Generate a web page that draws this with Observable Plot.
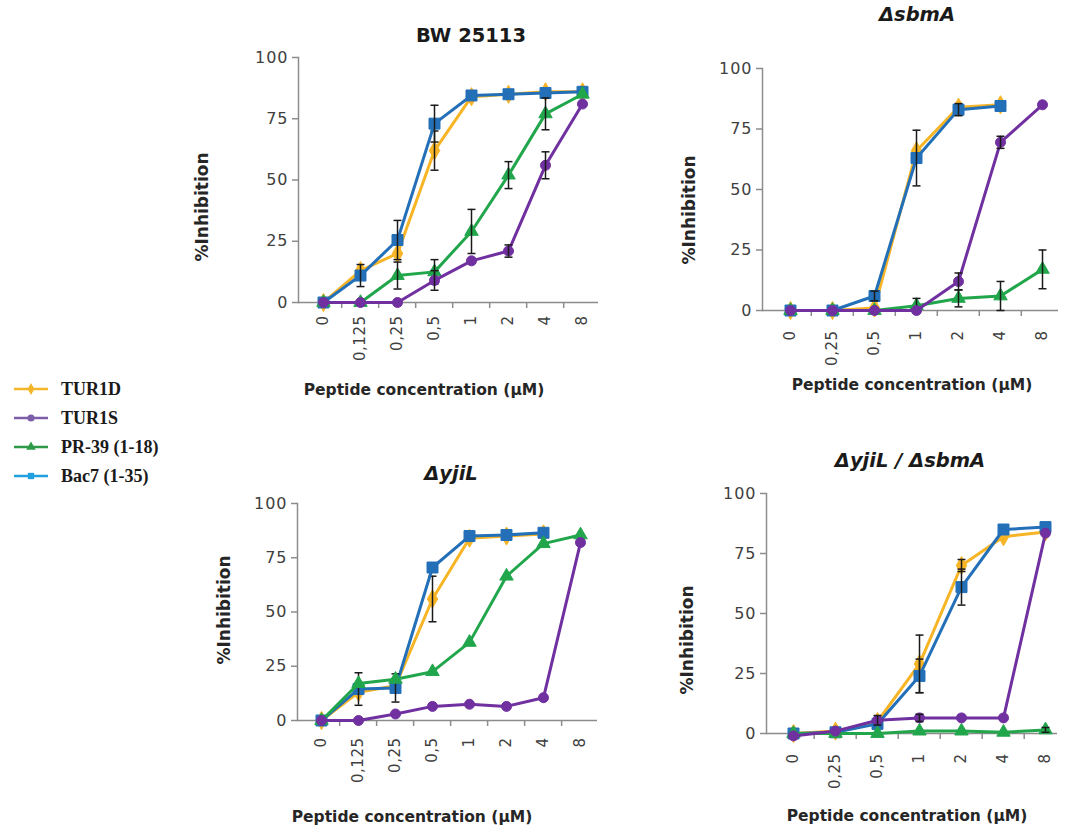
<!DOCTYPE html>
<html>
<head>
<meta charset="utf-8">
<script src="https://cdn.jsdelivr.net/npm/d3@7"></script>
<script src="https://cdn.jsdelivr.net/npm/@observablehq/plot@0.6"></script>
<style>
  html, body { margin: 0; background: #fff; }
  #fig { position: relative; width: 1067px; height: 834px; overflow: hidden; }
  #fig > .panel { position: absolute; }
  #fig > .panel g[aria-label="y-axis tick label"] text { letter-spacing: 1px; }
  #fig > .panel g[aria-label="x-axis tick label"] text { letter-spacing: 0.5px; }
  #overlay { position: absolute; left: 0; top: 0; pointer-events: none; }
</style>
</head>
<body>
<div id="fig"></div>
<script>
// Peptide concentrations (µM) used on the x axes
const concFull = ["0", "0,125", "0,25", "0,5", "1", "2", "4", "8"];
const concShort = ["0", "0,25", "0,5", "1", "2", "4", "8"];
const peptides = ["TUR1D", "TUR1S", "PR-39 (1-18)", "Bac7 (1-35)"];
const yTicks = [0, 25, 50, 75, 100];

// BW 25113 (% inhibition, mean and error)
const bwTUR1D = [0, 13, 20, 62, 84, 85, 86, 86];
const bwTUR1S = [0, 0, 0, 9, 17, 21, 56, 81];
const bwPR39 = [0, 0, 11, 12.5, 29, 52, 77, 85];
const bwBac7 = [0, 11, 25.5, 73, 84.5, 85, 85.5, 86];
const bwTUR1DErr = [null, null, null, 8, null, null, null, null];
const bwTUR1SErr = [null, null, null, 4, null, 2.5, 5.5, null];
const bwPR39Err = [null, null, 5.5, 5, 9, 5.5, 6.5, null];
const bwBac7Err = [null, 4.5, 8, 7.5, null, null, null, null];

// ΔsbmA
const sbTUR1D = [0, 0, 1, 66, 84, 85, null];
const sbTUR1S = [0, 0, 0, 0, 12, 69.5, 85];
const sbPR39 = [0, 0, 0, 2, 5, 6, 17];
const sbBac7 = [0, 0, 6, 63, 83, 84.5, null];
const sbTUR1DErr = [null, null, null, null, null, null, null];
const sbTUR1SErr = [null, null, null, null, 3.5, 2.5, null];
const sbPR39Err = [null, null, null, 3, 3.5, 6, 8];
const sbBac7Err = [null, null, 2, 11.5, 2.5, null, null];

// ΔyjiL
const yjTUR1D = [0, 13, 16, 56, 84, 85, 86, null];
const yjTUR1S = [0, 0, 3, 6.5, 7.5, 6.5, 10.5, 82];
const yjPR39 = [0, 17, 19, 22.5, 36, 66.5, 81.5, 85.5];
const yjBac7 = [0, 14.5, 15, 70.5, 85, 85.5, 86.5, null];
const yjTUR1DErr = [null, null, null, 10.5, null, null, null, null];
const yjTUR1SErr = [null, null, null, null, null, null, null, null];
const yjPR39Err = [null, null, null, null, null, null, null, null];
const yjBac7Err = [null, 7.5, 6.5, null, null, null, null, null];

// ΔyjiL / ΔsbmA
const dbTUR1D = [0, 1, 5, 29, 70, 82, 84];
const dbTUR1S = [-1, 1, 5.5, 6.5, 6.5, 6.5, 83.5];
const dbPR39 = [0, 0, 0, 1, 1, 0.5, 1.5];
const dbBac7 = [0, 0.5, 4, 24, 61, 85, 86];
const dbTUR1DErr = [null, null, null, 12, 2.5, null, null];
const dbTUR1SErr = [null, null, 2, 1.5, null, null, null];
const dbPR39Err = [null, null, null, null, null, null, 1];
const dbBac7Err = [null, null, null, 7, 7.5, null, null];

// Styling per peptide
const lineColor = {"TUR1D": "#f7b526", "TUR1S": "#7030a0", "PR-39 (1-18)": "#22a64c", "Bac7 (1-35)": "#2470b8"};
const keyColor = {"TUR1D": "#f3b52a", "TUR1S": "#7b5ea7", "PR-39 (1-18)": "#2e9a49", "Bac7 (1-35)": "#21a0e0"};
const symbolOf = {"TUR1D": "diamond", "TUR1S": "circle", "PR-39 (1-18)": "triangle", "Bac7 (1-35)": "square"};
const radiusOf = {"TUR1D": 5.5, "TUR1S": 5, "PR-39 (1-18)": 5, "Bac7 (1-35)": 6.2};
const drawOrder = ["TUR1D", "Bac7 (1-35)", "PR-39 (1-18)", "TUR1S"];

// horizontal cap used at the ends of error bars
const capSymbol = {draw(ctx, size) { const w = Math.sqrt(size) / 2; ctx.moveTo(-w, 0); ctx.lineTo(w, 0); }};

function rows(cats, vals, errs) {
  return cats.map((c, i) => ({c, v: vals[i], e: errs[i]})).filter(d => d.v != null);
}

const panels = [
  {title: "BW 25113", italic: false, cats: concFull,
   series: {"TUR1D": [bwTUR1D, bwTUR1DErr], "TUR1S": [bwTUR1S, bwTUR1SErr], "PR-39 (1-18)": [bwPR39, bwPR39Err], "Bac7 (1-35)": [bwBac7, bwBac7Err]},
   left: 230, top: 40, width: 380, height: 330, ml: 68, mr: 12, mt: 17, mb: 68, xr: [72, 373], pad: 13,
   tx: 471, ty: 42, ax: 424, ay: 395, lx: 208, ly: 207},
  {title: "ΔsbmA", italic: true, cats: concShort,
   series: {"TUR1D": [sbTUR1D, sbTUR1DErr], "TUR1S": [sbTUR1S, sbTUR1SErr], "PR-39 (1-18)": [sbPR39, sbPR39Err], "Bac7 (1-35)": [sbBac7, sbBac7Err]},
   left: 700, top: 50, width: 367, height: 320, ml: 62, mr: 9, mt: 18, mb: 60, xr: [67, 364], pad: 20,
   tx: 917, ty: 21, ax: 912, ay: 390, lx: 695, ly: 210},
  {title: "ΔyjiL", italic: true, cats: concFull,
   series: {"TUR1D": [yjTUR1D, yjTUR1DErr], "TUR1S": [yjTUR1S, yjTUR1SErr], "PR-39 (1-18)": [yjPR39, yjPR39Err], "Bac7 (1-35)": [yjBac7, yjBac7Err]},
   left: 230, top: 480, width: 380, height: 320, ml: 67, mr: 13, mt: 23, mb: 80, xr: [69, 371], pad: 17,
   tx: 451, ty: 480, ax: 412, ay: 822, lx: 230, ly: 610},
  {title: "ΔyjiL / ΔsbmA", italic: true, cats: concShort,
   series: {"TUR1D": [dbTUR1D, dbTUR1DErr], "TUR1S": [dbTUR1S, dbTUR1SErr], "PR-39 (1-18)": [dbPR39, dbPR39Err], "Bac7 (1-35)": [dbBac7, dbBac7Err]},
   left: 700, top: 470, width: 367, height: 330, ml: 66, mr: 10, mt: 23, mb: 67, xr: [70, 368], pad: 20,
   tx: 910, ty: 467, ax: 907, ay: 821, lx: 693, ly: 640}
];

const fig = document.getElementById("fig");
const axisGray = "#8c8c8c";

for (const p of panels) {
  const step = (p.xr[1] - p.xr[0]) / p.cats.length;
  const unit = (p.height - p.mt - p.mb) / 100;
  const marks = [
    Plot.frame({anchor: "left", stroke: axisGray, strokeWidth: 1.5}),
    Plot.ruleY([0], {stroke: axisGray, strokeWidth: 1.5}),
    Plot.ruleX(p.cats.slice(1), {x: d => d, dx: -step / 2, y1: 0, y2: -6 / unit, stroke: axisGray, strokeWidth: 1.5}),
    Plot.axisY(yTicks, {tickSize: 6, tickPadding: 4, stroke: axisGray, strokeWidth: 1.5, fill: "#404040", fontSize: 16, label: null}),
    Plot.axisX({tickSize: 0, tickPadding: p.pad, tickRotate: -90, fill: "#404040", fontSize: 15, label: null})
  ];
  for (const s of drawOrder) {
    const [vals, errs] = p.series[s];
    const data = rows(p.cats, vals, errs);
    const withErr = data.filter(d => d.e != null);
    marks.push(Plot.line(data, {x: "c", y: "v", stroke: lineColor[s], strokeWidth: 3}));
    marks.push(Plot.dot(data, {x: "c", y: "v", symbol: () => symbolOf[s], r: radiusOf[s], fill: lineColor[s], stroke: lineColor[s], strokeWidth: 1}));
    marks.push(Plot.ruleX(withErr, {x: "c", y1: d => d.v - d.e, y2: d => d.v + d.e, stroke: "#1a1a1a", strokeWidth: 1.5}));
    marks.push(Plot.dot(withErr, {x: "c", y: d => d.v + d.e, symbol: capSymbol, r: 4.5, stroke: "#1a1a1a", strokeWidth: 1.5}));
    marks.push(Plot.dot(withErr, {x: "c", y: d => d.v - d.e, symbol: capSymbol, r: 4.5, stroke: "#1a1a1a", strokeWidth: 1.5}));
  }
  const chart = Plot.plot({
    width: p.width, height: p.height,
    marginLeft: p.ml, marginRight: p.mr, marginTop: p.mt, marginBottom: p.mb,
    x: {type: "point", domain: p.cats, range: p.xr, padding: 0.5, label: null},
    y: {domain: [0, 100], label: null},
    symbol: {type: "identity"},
    style: {fontFamily: "DejaVu Sans", fontSize: "15px", color: "#404040", background: "transparent", overflow: "visible"},
    marks
  });
  chart.classList.add("panel");
  chart.style.left = p.left + "px";
  chart.style.top = p.top + "px";
  fig.appendChild(chart);
}

// Titles, axis titles and the shared key
const svg = d3.select(fig).append("svg").attr("id", "overlay").attr("width", 1067).attr("height", 834);

for (const p of panels) {
  svg.append("text").attr("x", p.tx).attr("y", p.ty).attr("text-anchor", "middle")
    .attr("font-family", "DejaVu Sans").attr("font-weight", "bold").attr("font-size", 19.5)
    .attr("font-style", p.italic ? "italic" : "normal").attr("fill", "#1a1a1a").text(p.title);
  svg.append("text").attr("x", p.ax).attr("y", p.ay).attr("text-anchor", "middle")
    .attr("font-family", "DejaVu Sans").attr("font-weight", "bold").attr("font-size", 15.5)
    .attr("fill", "#262626").text("Peptide concentration (µM)");
  svg.append("text").attr("transform", `translate(${p.lx},${p.ly}) rotate(-90)`).attr("text-anchor", "middle")
    .attr("font-family", "DejaVu Sans").attr("font-weight", "bold").attr("font-size", 17)
    .attr("fill", "#262626").text("%Inhibition");
}

const keyY = [389, 418, 447, 476];
peptides.forEach((s, i) => {
  const y = keyY[i];
  svg.append("line").attr("x1", 14).attr("x2", 48).attr("y1", y).attr("y2", y)
    .attr("stroke", keyColor[s]).attr("stroke-width", 2.5);
  svg.append("path").attr("transform", `translate(31,${y})`)
    .attr("d", d3.symbol(({diamond: d3.symbolDiamond, circle: d3.symbolCircle, triangle: d3.symbolTriangle, square: d3.symbolSquare})[symbolOf[s]], 40)())
    .attr("fill", keyColor[s]);
  svg.append("text").attr("x", 61).attr("y", y + 6)
    .attr("font-family", "Liberation Serif").attr("font-weight", "bold").attr("font-size", 18)
    .attr("fill", "#1a1a1a").text(s);
});
</script>
</body>
</html>
